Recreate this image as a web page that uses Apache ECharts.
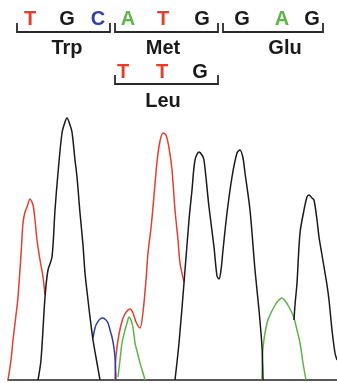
<!DOCTYPE html>
<html lang="en">
<head>
<meta charset="UTF-8">
<style>
html, body { height: 100%; margin: 0; background: #fff; }
</style>
</head>
<body>
<div id="chart" style="width:337px;height:383px;"></div>
<script src="https://cdn.jsdelivr.net/npm/echarts@6/dist/echarts.min.js"></script>
<script>
// sequence read and codons
var wildBases = ['T', 'G', 'C', 'A', 'T', 'G', 'G', 'A', 'G'];
var codonNames = ['Trp', 'Met', 'Glu'];
var mutantBases = ['T', 'T', 'G'];
var mutantName = 'Leu';

// trace signal, [scan, intensity]
var traceT1 = [[8,0],[11,20],[13,40],[16,65],[18,83],[21,125],[23,157],[25,168],[27,173],[30,181],[33,175],[35,160],[37,140],[40,120],[43,103],[45,85]];
var traceT2 = [[115,0],[116,24],[119,46],[123,62],[127,69],[130,71],[133,67],[136,58],[140,52],[143,68],[146,100],[148,127],[151,152],[153,173],[157,218],[160,239],[163,247],[166,245],[169,232],[172,210],[175,170],[178,140],[180,117],[184,98]];
var traceC = [[93,42],[95,52],[97,57],[100,61],[103,62],[106,60],[108,57],[110,50],[112,43],[114,32],[115,22],[116,0]];
var traceA1 = [[118,3],[120,20],[122,37],[125,50],[127,57],[129,63],[132,57],[134,45],[135,37],[138,25],[140,17],[143,7],[145,0]];
var traceA2 = [[262,0],[263,32],[267,57],[270,65],[274,73],[278,79],[282,82],[286,78],[289,73],[292,67],[294,62],[297,50],[300,37],[303,17],[306,0]];
var traceG1 = [[38,0],[41,20],[45,83],[48,110],[52,123],[55,170],[58,207],[62,247],[65,258],[67,262],[70,255],[72,248],[75,220],[77,203],[80,167],[83,135],[85,107],[88,80],[90,63],[93,40],[97,17],[100,0]];
var traceG2 = [[175,0],[179,37],[184,97],[189,160],[192,190],[195,220],[199,228],[202,225],[204,220],[209,173],[214,133],[217,104],[219,101],[221,110],[223,130],[227,167],[232,203],[237,227],[240,230],[243,222],[245,207],[250,170],[255,110],[259,70],[262,33],[263,0]];
var traceG3 = [[294,60],[295,75],[297,97],[300,147],[304,170],[307,183],[309,185],[312,182],[314,180],[317,160],[319,143],[322,125],[324,113],[327,95],[329,80],[332,50],[335,27],[337,20]];

var baseColor = { A: '#5db548', T: '#e2402c', G: '#1a1a1a', C: '#2f3fa6' };

function trace(data, base) {
    return {
        type: 'line',
        data: data,
        showSymbol: false,
        smooth: 0.3,
        silent: true,
        lineStyle: { color: baseColor[base], width: 1.5 }
    };
}

// header: bases, brackets, amino acids
var font = 'bold 20px "Liberation Sans", Arial, sans-serif';
var wildX = [30, 67, 98, 128, 163, 202, 242, 282, 312];
var bracketSpans = [[17, 110], [115, 218], [223, 323]];
var nameX = [67, 163, 285];
var mutantX = [123, 162, 200];
var graphic = [];

function bracket(x0, x1, y) {
    return {
        type: 'polyline',
        shape: { points: [[x0, y - 9], [x0, y], [x1, y], [x1, y - 9]] },
        style: { stroke: '#2a2a2a', lineWidth: 1.8, fill: null }
    };
}
function label(txt, x, y, color) {
    return {
        type: 'text', x: x, y: y,
        style: { text: txt, font: font, fill: color, align: 'center', verticalAlign: 'middle' }
    };
}

wildBases.forEach(function (b, i) { graphic.push(label(b, wildX[i], 19, baseColor[b])); });
bracketSpans.forEach(function (s, i) {
    graphic.push(bracket(s[0], s[1], 32));
    graphic.push(label(codonNames[i], nameX[i], 48, '#1a1a1a'));
});
mutantBases.forEach(function (b, i) { graphic.push(label(b, mutantX[i], 72, baseColor[b])); });
graphic.push(bracket(115, 218, 84));
graphic.push(label(mutantName, 163, 101, '#1a1a1a'));

var myChart = echarts.init(document.getElementById('chart'));
myChart.setOption({
    animation: false,
    grid: { left: 8, right: 0, top: 110, bottom: 3 },
    xAxis: {
        type: 'value', min: 8, max: 337,
        axisLine: { show: true, lineStyle: { color: '#222', width: 1.5 } },
        axisTick: { show: false }, axisLabel: { show: false }, splitLine: { show: false }
    },
    yAxis: {
        type: 'value', min: 0, max: 270, show: false
    },
    graphic: graphic,
    series: [
        trace(traceT1, 'T'), trace(traceT2, 'T'),
        trace(traceC, 'C'),
        trace(traceA1, 'A'), trace(traceA2, 'A'),
        trace(traceG1, 'G'), trace(traceG2, 'G'), trace(traceG3, 'G')
    ]
});
</script>
</body>
</html>
